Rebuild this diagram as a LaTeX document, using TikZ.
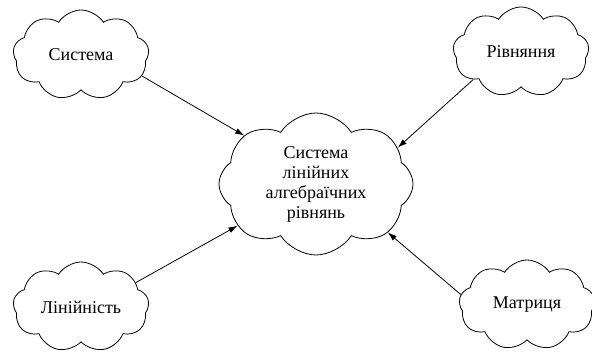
\documentclass[tikz,border=0pt]{standalone}
\usepackage{fontspec}
\setmainfont{Liberation Serif}
\usetikzlibrary{shapes.symbols,arrows.meta}
\tikzset{
  puff/.style={cloud, draw, line width=0.8pt, cloud puffs=9, cloud puff arc=115,
    cloud ignores aspect, inner sep=0pt, align=center,
    font=\fontsize{18}{20}\selectfont},
  small/.style={puff, minimum width=136pt, minimum height=90pt},
  big/.style={puff, cloud puffs=8, minimum width=194pt, minimum height=142pt},
  link/.style={line width=0.8pt, -{Latex[length=9pt,width=6pt]}}
}
\begin{document}
\begin{tikzpicture}[x=1pt,y=-1pt]
  \useasboundingbox (0,0) rectangle (592,352);
  \node[big]   (c) at (316,184) {Система\\лінійних\\алгебраїчних\\рівнянь};
  \node[small] (s) at (81,55)   {Система};
  \node[small] (r) at (521,52)  {Рівняння};
  \node[small] (l) at (81,307)  {Лінійність};
  \node[small] (m) at (527,305) {Матриця};
  \draw[link] (s.341) -- (c.146);
  \draw[link] (r.210) -- (c.24);
  \draw[link] (l.24)  -- (c.208);
  \draw[link] (m.171) -- (c.326);
\end{tikzpicture}
\end{document}
